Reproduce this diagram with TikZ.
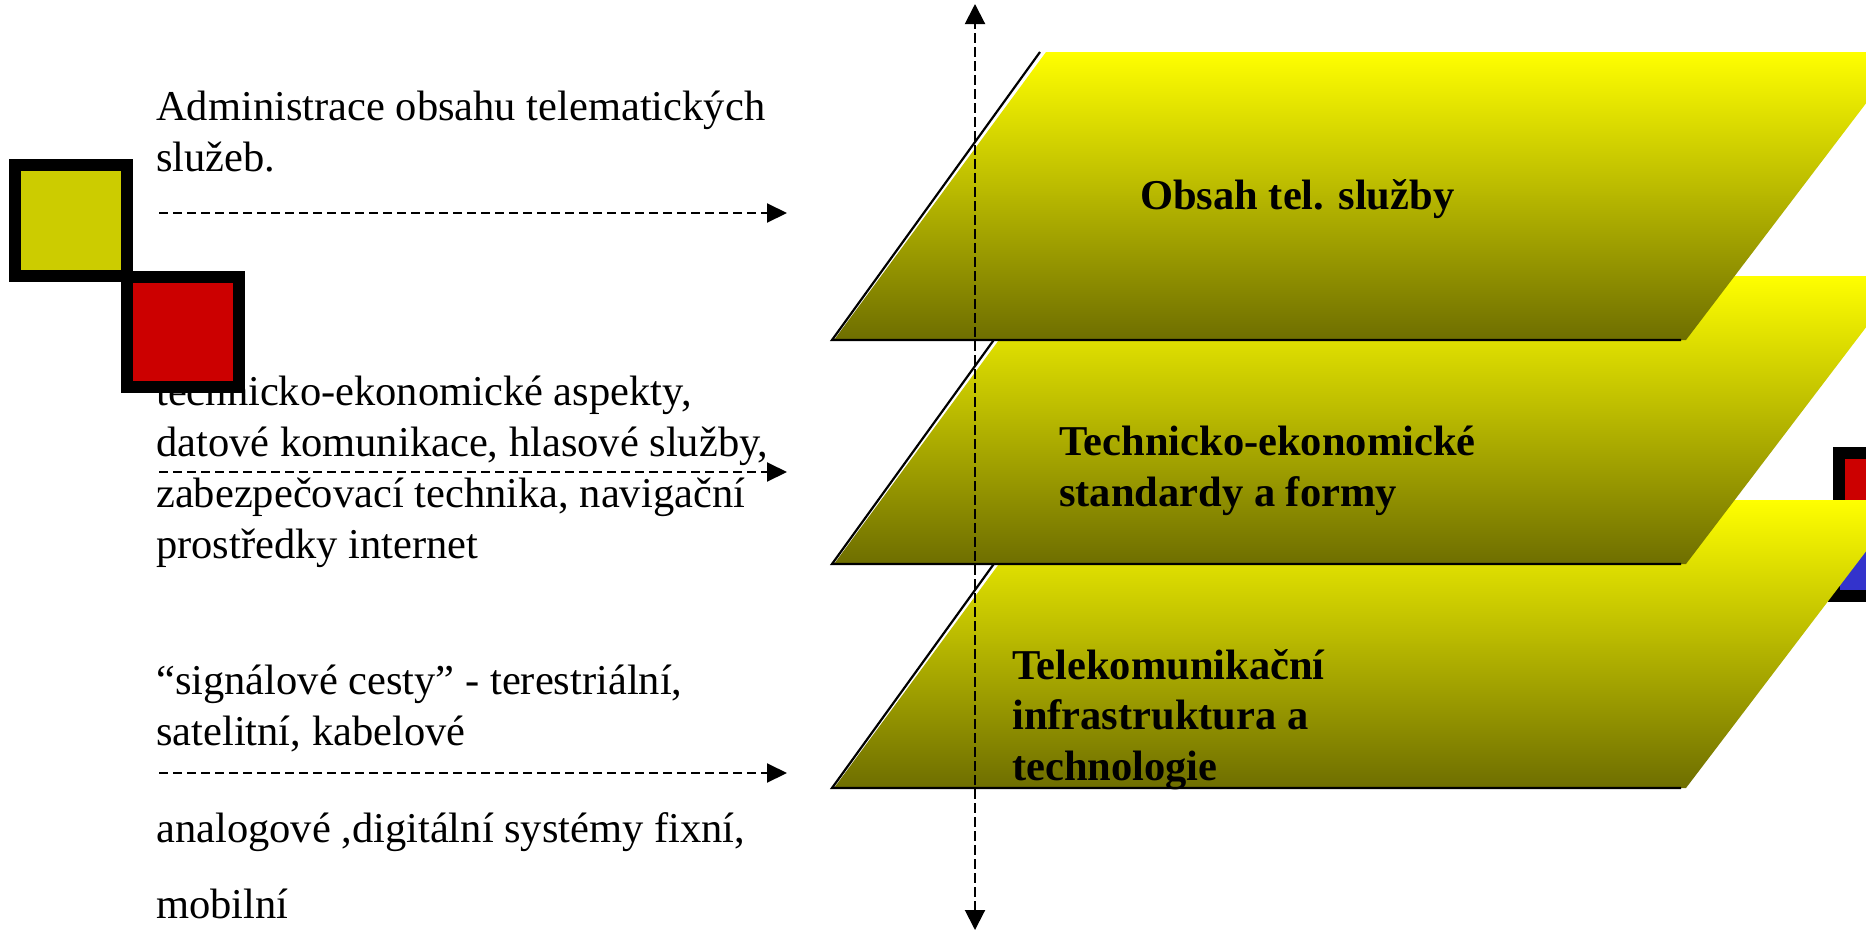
\documentclass[tikz,border=0pt]{standalone}
\usepackage{fontspec}
\setmainfont{Liberation Serif}
\usetikzlibrary{arrows.meta}

\definecolor{logoyellow}{RGB}{204,204,0}
\definecolor{logored}{RGB}{204,0,0}
\definecolor{logoblue}{RGB}{51,51,204}
\definecolor{layertop}{RGB}{255,255,0}
\definecolor{layerbottom}{RGB}{110,110,0}

\tikzset{
  % multi-line nodes are placed by the baseline of their last line
  note/.style={anchor=base west, inner sep=0pt, align=left,
    font=\fontsize{42.5}{51}\selectfont},
  layerlabel/.style={anchor=base west, inner sep=0pt, align=left,
    font=\fontsize{42.5}{50.5}\selectfont\bfseries},
  pointer/.style={line width=2pt, dash pattern=on 9pt off 5pt,
    -{Triangle[length=20pt,width=19pt]}},
  axis/.style={line width=2pt, dash pattern=on 10pt off 4pt,
    {Triangle[length=20pt,width=20pt]}-{Triangle[length=20pt,width=20pt]}},
  layeredge/.style={line width=2.2pt, line join=miter},
  logosquare/.style={line width=12pt, line join=miter},
}

% one layer of the stack; #1 is the y of its lower edge
\newcommand{\drawlayer}[1]{%
  \shade[top color=layertop, bottom color=layerbottom]
    (834,#1) -- (1046,#1-288) -- (1905,#1-288) -- (1686,#1) -- cycle;
  \draw[layeredge] (1040,#1-288) -- (832,#1) -- (1681,#1);
}

\begin{document}
\begin{tikzpicture}[x=1pt,y=-1pt]
\useasboundingbox (0,0) rectangle (1866,932);
\clip (0,0) rectangle (1866,932);

% descriptions on the left
\node[note] (admin) at (156,171) {Administrace obsahu telematických\\služeb.};
\node[note] (aspects) at (156,558) {technicko-ekonomické aspekty,\\datové komunikace, hlasové služby,\\zabezpečovací technika, navigační\\prostředky internet};
\node[note] (paths) at (156,745) {“signálové cesty” - terestriální,\\satelitní, kabelové};
\node[note] (systems) at (156,842) {analogové ,digitální systémy fixní,};
\node[note] (mobile) at (156,918) {mobilní};

% logo squares, left
\draw[logosquare, fill=logoyellow] (15,165) rectangle (127,276);
\draw[logosquare, fill=logored] (127,277) rectangle (239,387);

% logo squares, right edge
\draw[logosquare, fill=logored] (1839,453) rectangle (1963,577);
\draw[logosquare, fill=logoblue] (1834,508) rectangle (1958,596);

% stacked layers, lowest first
\drawlayer{788}
\drawlayer{564}
\drawlayer{340}

% layer titles
\node[layerlabel] (content) at (1140,209) {Obsah tel. služby};
\node[layerlabel] (standards) at (1059,506) {Technicko-ekonomické\\standardy a formy};
\node[layerlabel] (infra) at (1012,780) {Telekomunikační\\infrastruktura a\\technologie};

% vertical axis
\coordinate (axistop) at (975,4);
\coordinate (axisbottom) at (975,930);
\draw[axis] (axisbottom) -- (axistop);

% pointers from the descriptions to the layers
\coordinate (p1s) at (159,213);
\coordinate (p1e) at (787,213);
\coordinate (p2s) at (159,472);
\coordinate (p2e) at (787,472);
\coordinate (p3s) at (159,773);
\coordinate (p3e) at (787,773);
\draw[pointer] (p1s) -- (p1e);
\draw[pointer] (p2s) -- (p2e);
\draw[pointer] (p3s) -- (p3e);
\end{tikzpicture}
\end{document}
